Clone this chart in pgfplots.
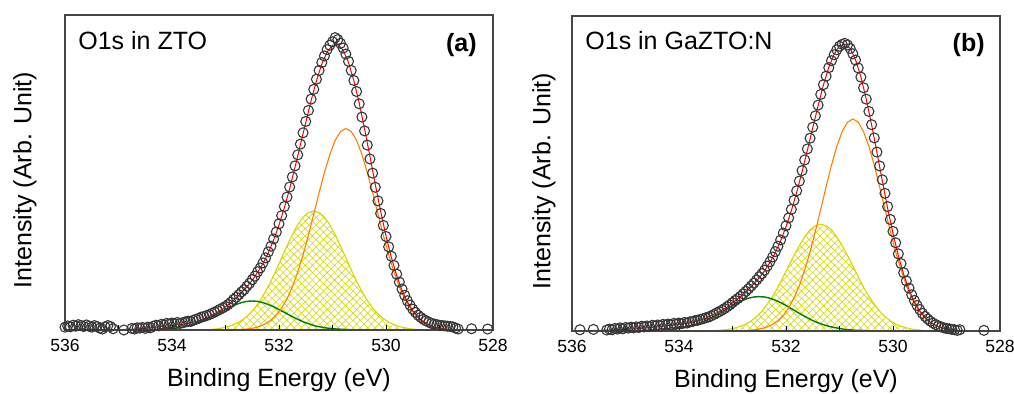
\documentclass[border=0pt]{standalone}
\usepackage{fontspec}
\setmainfont{Liberation Sans}
\usepackage{pgfplots}
\pgfplotsset{compat=1.18}
\usetikzlibrary{patterns.meta}
\definecolor{datac}{RGB}{55,55,55}
\definecolor{fitred}{RGB}{255,0,0}
\definecolor{orng}{RGB}{255,128,0}
\definecolor{yel}{RGB}{215,215,0}
\definecolor{grn}{RGB}{0,125,0}
\definecolor{frame}{RGB}{70,70,70}
\pgfplotsset{
  panel/.style={
    scale only axis, width=214pt, height=157.5pt, anchor=south west, axis on top,
    x dir=reverse, xmin=528, xmax=536, ymin=0, ymax=1,
    xtick={528,530,532,534,536}, minor xtick={529,531,533,535},
    xtick pos=lower, ytick=\empty, tick align=inside,
    major tick length=2.5pt, minor tick length=2.5pt,
    every tick/.style={black, line width=0.4pt},
    axis line style={frame, line width=0.8pt},
    /pgf/number format/assume math mode=true,
    /pgf/number format/1000 sep={},
    xticklabel style={font=\fontsize{8.8pt}{10pt}\selectfont, anchor=center, yshift=-7.5pt},
    xlabel={Binding Energy (eV)},
    ylabel={Intensity (Arb. Unit)},
    xlabel style={font=\fontsize{12.5pt}{14pt}\selectfont, at={(axis description cs:0.5,0)}, anchor=center, yshift=-25pt},
  },
  datastyle/.style={only marks, mark=o, mark size=2.5pt, mark options={datac, line width=0.55pt}},
  redstyle/.style={fitred, line width=0.5pt, no marks},
  orgstyle/.style={orng, line width=0.55pt, no marks},
  grnstyle/.style={grn, line width=0.7pt, no marks},
  yelstyle/.style={draw=yel, line width=0.55pt, no marks, pattern={Hatch[angle=45,distance=2.6pt,line width=0.3pt]}, pattern color=yel},
}
\begin{document}
\begin{tikzpicture}
\path[use as bounding box] (0,0) rectangle (507pt,197pt);
% ---------------- (a) ----------------
\begin{axis}[panel, at={(32.5pt,32pt)}, ylabel style={font=\fontsize{12.5pt}{14pt}\selectfont, at={([xshift=-20pt]axis description cs:0,0.476)}, anchor=center}]
\addplot[blue, dashed, line width=0.5pt] coordinates {(536,0.001) (528,0.001)};
\addplot[yelstyle] coordinates {(528.9,0)(529.35,.001)(529.45,.002)(529.55,.004)(529.65,.007)(529.75,.011)(529.85,.017)(529.95,.025)(530.05,.036)(530.15,.051)(530.25,.070)(530.35,.094)(530.45,.123)(530.55,.155)(530.65,.191)(530.75,.229)(530.85,.267)(530.95,.303)(531.05,.334)(531.15,.358)(531.25,.373)(531.35,.378)(531.45,.373)(531.55,.358)(531.65,.334)(531.75,.303)(531.85,.267)(531.95,.229)(532.05,.191)(532.15,.155)(532.25,.123)(532.35,.094)(532.45,.070)(532.55,.051)(532.65,.036)(532.75,.025)(532.85,.017)(532.95,.011)(533.05,.007)(533.15,.004)(533.25,.002)(533.35,.001)(533.8,0)} \closedcycle;
\addplot[grnstyle] coordinates {(528,0)(530.3,0)(530.7,.001)(530.8,.002)(530.9,.003)(531.0,.004)(531.1,.006)(531.2,.009)(531.3,.012)(531.4,.017)(531.5,.023)(531.6,.030)(531.7,.038)(531.8,.047)(531.9,.056)(532.0,.065)(532.1,.074)(532.2,.081)(532.3,.087)(532.4,.091)(532.5,.092)(532.6,.091)(532.7,.087)(532.8,.081)(532.9,.074)(533.0,.065)(533.1,.056)(533.2,.047)(533.3,.038)(533.4,.030)(533.5,.023)(533.6,.017)(533.7,.012)(533.8,.009)(533.9,.006)(534.0,.004)(534.1,.003)(534.2,.002)(534.3,.001)(534.5,0)(536,0)};
\addplot[orgstyle] coordinates {(528,0)(528.55,0)(528.75,.001)(528.85,.002)(528.95,.004)(529.05,.007)(529.15,.012)(529.25,.020)(529.35,.031)(529.45,.048)(529.55,.070)(529.65,.099)(529.75,.137)(529.85,.184)(529.95,.239)(530.05,.301)(530.15,.368)(530.25,.436)(530.35,.500)(530.45,.557)(530.55,.602)(530.65,.630)(530.75,.640)(530.85,.630)(530.95,.602)(531.05,.557)(531.15,.500)(531.25,.436)(531.35,.368)(531.45,.301)(531.55,.239)(531.65,.184)(531.75,.137)(531.85,.099)(531.95,.070)(532.05,.048)(532.15,.031)(532.25,.020)(532.35,.012)(532.45,.007)(532.55,.004)(532.65,.002)(532.75,.001)(532.95,0)(533.5,0)};
\addplot[datastyle] coordinates {(536.00,.009)(535.95,.013)(535.90,.010)(535.85,.015)(535.80,.012)(535.75,.017)(535.70,.014)(535.65,.011)(535.60,.016)(535.55,.012)(535.50,.009)(535.45,.014)(535.40,.011)(535.35,.006)(535.30,.003)(535.25,.010)(535.20,.014)(535.15,.011)(535.10,.004)(535.05,-.02)(535.00,-.02)(534.95,-.02)(534.90,.000)(534.85,-.02)(534.80,-.02)(534.75,.005)(534.70,.003)(534.65,.007)(534.60,.006)(534.55,.008)(534.50,.005)(534.45,.009)(534.40,.007)(534.35,.012)(534.30,.015)(534.25,.013)(534.20,.018)(534.15,.016)(534.10,.021)(534.05,.019)(534.00,.022)(533.95,.020)(533.90,.024)(533.85,.021)(533.80,.023)(533.75,.026)(533.70,.028)(533.65,.027)(533.60,.031)(533.55,.034)(533.50,.037)(533.45,.041)(533.40,.043)(533.35,.046)(533.30,.049)(533.25,.053)(533.20,.057)(533.15,.061)(533.10,.066)(533.05,.070)(533.00,.075)(532.95,.081)(532.90,.088)(532.85,.097)(532.80,.104)(532.75,.112)(532.70,.121)(532.65,.128)(532.60,.139)(532.55,.148)(532.50,.160)(532.45,.171)(532.40,.185)(532.35,.197)(532.30,.213)(532.25,.229)(532.20,.248)(532.15,.266)(532.10,.289)(532.05,.311)(532.00,.337)(531.95,.363)(531.90,.392)(531.85,.422)(531.80,.454)(531.75,.486)(531.70,.521)(531.65,.556)(531.60,.590)(531.55,.626)(531.50,.662)(531.45,.697)(531.40,.733)(531.35,.764)(531.30,.796)(531.25,.824)(531.20,.849)(531.15,.870)(531.10,.890)(531.05,.904)(531.00,.915)(530.95,.928)(530.90,.922)(530.85,.910)(530.80,.895)(530.75,.876)(530.70,.853)(530.65,.824)(530.60,.792)(530.55,.757)(530.50,.718)(530.45,.676)(530.40,.632)(530.35,.587)(530.30,.543)(530.25,.498)(530.20,.453)(530.15,.410)(530.10,.370)(530.05,.332)(530.00,.297)(529.95,.264)(529.90,.234)(529.85,.205)(529.80,.177)(529.75,.152)(529.70,.130)(529.65,.110)(529.60,.093)(529.55,.079)(529.50,.066)(529.45,.056)(529.40,.047)(529.35,.040)(529.30,.034)(529.25,.029)(529.20,.025)(529.15,.021)(529.10,.019)(529.05,.017)(529.00,.015)(528.95,.014)(528.90,.013)(528.85,.012)(528.80,.011)(528.75,.010)(528.70,.006)(528.65,.003)(528.60,-.02)(528.55,-.02)(528.50,-.02)(528.45,-.02)(528.40,.004)(528.35,-.02)(528.30,-.02)(528.25,-.02)(528.20,-.02)(528.15,-.02)(528.10,.003)(528.05,-.02)(528.00,-.02)};
\addplot[redstyle] coordinates {(528.0,0)(528.5,0)(528.6,.0005)(528.7,.001)(528.8,.002)(528.9,.003)(529.0,.006)(529.1,.010)(529.2,.017)(529.3,.026)(529.4,.041)(529.5,.061)(529.6,.089)(529.7,.126)(529.8,.173)(529.9,.231)(530.0,.299)(530.1,.377)(530.2,.462)(530.3,.551)(530.4,.638)(530.5,.720)(530.6,.791)(530.7,.849)(530.8,.888)(530.9,.906)(531.0,.904)(531.1,.883)(531.2,.844)(531.3,.791)(531.4,.728)(531.5,.658)(531.6,.588)(531.7,.517)(531.8,.449)(531.9,.388)(532.0,.333)(532.1,.286)(532.2,.245)(532.3,.211)(532.4,.183)(532.5,.158)(532.6,.137)(532.7,.119)(532.8,.102)(532.9,.087)(533.0,.074)(533.1,.061)(533.2,.052)(533.3,.043)(533.4,.036)(533.5,.029)(533.6,.025)(533.7,.021)(533.8,.018)(533.9,.016)(534.0,.014)(534.2,.011)(534.4,.007)(534.6,.004)(534.8,.002)(535.0,.001)(536.0,0)};
\end{axis}
\node[anchor=west, inner sep=0pt, font=\fontsize{12.5pt}{14pt}\selectfont] at (39pt,176.5pt) {O1s in ZTO};
\node[anchor=east, inner sep=0pt, font=\fontsize{12.5pt}{14pt}\selectfont\bfseries] at (238.5pt,174.5pt) {(a)};
% ---------------- (b) ----------------
\begin{axis}[panel, at={(286pt,31.5pt)}, ylabel style={font=\fontsize{12.5pt}{14pt}\selectfont, at={([xshift=-14pt]axis description cs:0,0.476)}, anchor=center}]
\addplot[blue, dashed, line width=0.5pt] coordinates {(536,0.001) (528,0.001)};
\addplot[yelstyle] coordinates {(528.9,0)(529.35,.001)(529.45,.002)(529.55,.004)(529.65,.006)(529.75,.010)(529.85,.015)(529.95,.022)(530.05,.032)(530.15,.046)(530.25,.063)(530.35,.085)(530.45,.110)(530.55,.139)(530.65,.172)(530.75,.206)(530.85,.240)(530.95,.271)(531.05,.299)(531.15,.321)(531.25,.334)(531.35,.339)(531.45,.334)(531.55,.321)(531.65,.299)(531.75,.271)(531.85,.240)(531.95,.206)(532.05,.172)(532.15,.139)(532.25,.110)(532.35,.085)(532.45,.063)(532.55,.046)(532.65,.032)(532.75,.022)(532.85,.015)(532.95,.010)(533.05,.006)(533.15,.004)(533.25,.002)(533.35,.001)(533.8,0)} \closedcycle;
\addplot[grnstyle] coordinates {(528,0)(530.1,0)(530.5,.001)(530.6,.002)(530.7,.002)(530.8,.004)(530.9,.005)(531.0,.008)(531.1,.011)(531.2,.015)(531.3,.020)(531.4,.026)(531.5,.033)(531.6,.042)(531.7,.051)(531.8,.061)(531.9,.071)(532.0,.081)(532.1,.090)(532.2,.098)(532.3,.104)(532.4,.108)(532.5,.109)(532.6,.108)(532.7,.104)(532.8,.098)(532.9,.090)(533.0,.081)(533.1,.071)(533.2,.061)(533.3,.051)(533.4,.042)(533.5,.033)(533.6,.026)(533.7,.020)(533.8,.015)(533.9,.011)(534.0,.008)(534.1,.005)(534.2,.004)(534.3,.002)(534.4,.002)(534.5,.001)(534.8,0)(536,0)};
\addplot[orgstyle] coordinates {(528,0)(528.55,0)(528.75,.001)(528.85,.003)(528.95,.005)(529.05,.008)(529.15,.013)(529.25,.021)(529.35,.033)(529.45,.050)(529.55,.073)(529.65,.105)(529.75,.144)(529.85,.194)(529.95,.251)(530.05,.317)(530.15,.387)(530.25,.458)(530.35,.526)(530.45,.586)(530.55,.633)(530.65,.663)(530.75,.673)(530.85,.663)(530.95,.633)(531.05,.586)(531.15,.526)(531.25,.458)(531.35,.387)(531.45,.317)(531.55,.251)(531.65,.194)(531.75,.144)(531.85,.105)(531.95,.073)(532.05,.050)(532.15,.033)(532.25,.021)(532.35,.013)(532.45,.008)(532.55,.005)(532.65,.003)(532.75,.001)(532.95,0)(533.5,0)};
\addplot[datastyle] coordinates {(536.00,-.02)(535.95,-.02)(535.90,-.02)(535.85,.004)(535.80,-.02)(535.75,-.02)(535.70,-.02)(535.65,-.02)(535.60,.005)(535.55,-.02)(535.50,-.02)(535.45,-.02)(535.40,-.02)(535.35,.003)(535.30,.006)(535.25,.004)(535.20,.008)(535.15,.006)(535.10,.010)(535.05,.007)(535.00,.011)(534.95,.009)(534.90,.012)(534.85,.010)(534.80,.013)(534.75,.011)(534.70,.015)(534.65,.013)(534.60,.016)(534.55,.014)(534.50,.018)(534.45,.016)(534.40,.019)(534.35,.017)(534.30,.021)(534.25,.019)(534.20,.022)(534.15,.020)(534.10,.024)(534.05,.022)(534.00,.025)(533.95,.023)(533.90,.027)(533.85,.025)(533.80,.029)(533.75,.030)(533.70,.033)(533.65,.034)(533.60,.037)(533.55,.039)(533.50,.042)(533.45,.044)(533.40,.048)(533.35,.052)(533.30,.057)(533.25,.061)(533.20,.066)(533.15,.071)(533.10,.077)(533.05,.083)(533.00,.090)(532.95,.097)(532.90,.103)(532.85,.110)(532.80,.118)(532.75,.126)(532.70,.134)(532.65,.143)(532.60,.152)(532.55,.162)(532.50,.172)(532.45,.182)(532.40,.193)(532.35,.206)(532.30,.220)(532.25,.235)(532.20,.252)(532.15,.269)(532.10,.289)(532.05,.311)(532.00,.334)(531.95,.359)(531.90,.386)(531.85,.415)(531.80,.445)(531.75,.476)(531.70,.509)(531.65,.543)(531.60,.578)(531.55,.612)(531.50,.647)(531.45,.683)(531.40,.717)(531.35,.751)(531.30,.782)(531.25,.809)(531.20,.836)(531.15,.858)(531.10,.877)(531.05,.893)(531.00,.904)(530.95,.910)(530.90,.913)(530.85,.908)(530.80,.897)(530.75,.880)(530.70,.860)(530.65,.835)(530.60,.806)(530.55,.772)(530.50,.736)(530.45,.697)(530.40,.655)(530.35,.613)(530.30,.568)(530.25,.524)(530.20,.480)(530.15,.437)(530.10,.395)(530.05,.354)(530.00,.316)(529.95,.280)(529.90,.245)(529.85,.214)(529.80,.185)(529.75,.159)(529.70,.136)(529.65,.115)(529.60,.097)(529.55,.081)(529.50,.068)(529.45,.056)(529.40,.046)(529.35,.038)(529.30,.031)(529.25,.025)(529.20,.020)(529.15,.016)(529.10,.013)(529.05,.010)(529.00,.008)(528.95,.007)(528.90,.005)(528.85,.004)(528.80,.002)(528.75,.004)(528.70,-.02)(528.65,-.02)(528.60,-.02)(528.55,-.02)(528.50,-.02)(528.45,-.02)(528.40,-.02)(528.35,-.02)(528.30,.002)(528.25,-.02)(528.20,-.02)(528.15,-.02)(528.10,-.02)(528.05,-.02)(528.00,-.02)};
\addplot[redstyle] coordinates {(528.0,0)(528.5,0)(528.7,.001)(528.8,.002)(528.9,.003)(529.0,.006)(529.1,.010)(529.2,.018)(529.3,.028)(529.4,.043)(529.5,.064)(529.6,.093)(529.7,.131)(529.8,.180)(529.9,.239)(530.0,.310)(530.1,.390)(530.2,.477)(530.3,.567)(530.4,.655)(530.5,.736)(530.6,.807)(530.7,.861)(530.8,.897)(530.9,.911)(531.0,.905)(531.1,.879)(531.2,.837)(531.3,.781)(531.4,.715)(531.5,.645)(531.6,.574)(531.7,.505)(531.8,.440)(531.9,.382)(532.0,.331)(532.1,.286)(532.2,.249)(532.3,.218)(532.4,.191)(532.5,.169)(532.6,.150)(532.7,.133)(532.8,.117)(532.9,.102)(533.0,.089)(533.1,.076)(533.2,.066)(533.3,.057)(533.4,.049)(533.5,.040)(533.6,.035)(533.7,.030)(533.8,.026)(533.9,.023)(534.0,.021)(534.2,.017)(534.4,.013)(534.6,.010)(534.8,.007)(535.0,.005)(535.5,.002)(536.0,0)};
\end{axis}
\node[anchor=west, inner sep=0pt, font=\fontsize{12.5pt}{14pt}\selectfont] at (292.5pt,176.5pt) {O1s in GaZTO:N};
\node[anchor=east, inner sep=0pt, font=\fontsize{12.5pt}{14pt}\selectfont\bfseries] at (492.5pt,174.5pt) {(b)};
\end{tikzpicture}
\end{document}
